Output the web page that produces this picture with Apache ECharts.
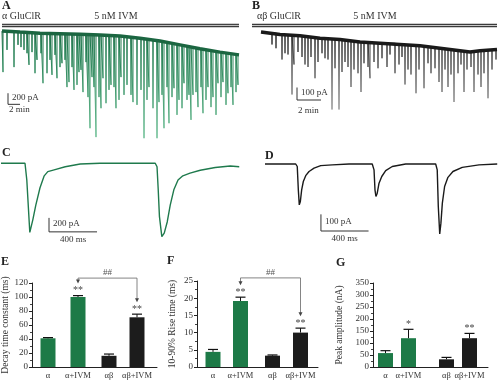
<!DOCTYPE html>
<html><head><meta charset="utf-8">
<script src="https://cdn.jsdelivr.net/npm/echarts/dist/echarts.min.js"></script>
<style>html,body{margin:0;padding:0;background:#fff}#c{width:499px;height:382px}</style>
</head><body><div id="c"></div>
<script>
// ================= DATA =================
// Panel A: α GluClR + 5 nM IVM, whole-cell trace (time s, current pA)
const aBaseT = [0,180,380,580,780,980,1180,1380,1580,1780,1980,2180,2370];
const aBaseI = [0,-20,-40,-50,-60,-70,-90,-130,-180,-250,-320,-380,-430];
const aSpikeT = [10,50,120,160,190,220,250,270,300,330,350,390,410,450,480,500,530,550,580,600,630,650,670,700,720,750,770,790,810,840,860,880,900,920,940,970,990,1010,1040,1070,1090,1120,1140,1170,1190,1220,1250,1290,1310,1350,1390,1420,1450,1470,1510,1550,1570,1600,1620,1650,1670,1700,1720,1750,1770,1800,1820,1850,1870,1890,1910,1940,1960,1990,2010,2040,2060,2090,2110,2140,2160,2190,2210,2240,2260,2290,2310,2340,2360];
const aSpikeBase = [0,-10,-10,-20,-20,-20,-20,-30,-30,-30,-30,-40,-40,-40,-50,-50,-50,-50,-50,-50,-60,-60,-60,-60,-60,-60,-60,-60,-60,-70,-70,-70,-70,-70,-70,-70,-70,-70,-80,-80,-80,-80,-90,-90,-90,-100,-100,-110,-110,-120,-130,-140,-140,-150,-160,-170,-180,-190,-190,-210,-210,-220,-230,-240,-250,-260,-270,-280,-280,-290,-300,-310,-320,-330,-330,-340,-350,-350,-360,-370,-370,-380,-390,-400,-400,-410,-420,-420,-430];
const aSpikePeak = [-740,-340,-650,-250,-290,-340,-400,-610,-380,-760,-520,-400,-940,-760,-520,-790,-430,-850,-650,-580,-520,-1010,-920,-650,-1060,-970,-740,-700,-1100,-560,-1190,-1750,-830,-1010,-1910,-1190,-1390,-850,-1300,-1060,-970,-1010,-1390,-1240,-830,-1150,-970,-1150,-1280,-1330,-1060,-1930,-1240,-1010,-1390,-1930,-1280,-1150,-1750,-1010,-1660,-1190,-1030,-1510,-1240,-1390,-940,-1240,-1150,-1600,-1150,-1100,-1370,-1010,-1480,-1240,-1010,-1370,-1190,-1510,-940,-1190,-920,-1330,-1120,-1010,-1330,-1100,-970];
const aIvm = [0, 2370];

// Panel B: αβ GluClR + 5 nM IVM (time s, current pA)
const bBaseT = [0,95,195,295,395,495,595,695,795,895,995,1045,1095,1180];
const bBaseI = [0,-20,-30,-50,-60,-80,-90,-100,-110,-130,-150,-160,-150,-140];
const bSpikeT = [55,75,105,120,135,155,165,185,205,220,235,250,270,285,305,320,335,355,370,390,405,420,435,450,465,485,500,515,535,545,565,585,605,630,645,670,690,705,720,735,750,775,790,815,835,850,870,890,905,920,935,950,965,985,1000,1015,1030,1050,1065,1085,1100,1115,1135,1155,1175];
const bSpikeBase = [-10,-10,-20,-20,-20,-30,-30,-30,-30,-40,-40,-40,-40,-50,-50,-50,-50,-60,-60,-60,-70,-70,-70,-70,-80,-80,-80,-80,-80,-80,-90,-90,-90,-90,-90,-90,-100,-100,-100,-100,-100,-110,-110,-120,-120,-120,-120,-130,-130,-130,-140,-140,-150,-150,-150,-160,-160,-160,-160,-150,-150,-150,-140,-140,-140];
const bSpikePeak = [-100,-130,-220,-170,-180,-500,-260,-160,-200,-260,-280,-200,-370,-240,-170,-210,-220,-620,-290,-620,-320,-240,-280,-440,-300,-330,-480,-250,-280,-370,-240,-290,-210,-280,-180,-330,-260,-200,-420,-300,-340,-490,-300,-450,-250,-330,-290,-400,-480,-300,-440,-340,-560,-330,-260,-480,-300,-280,-480,-340,-440,-330,-530,-300,-220];
const bIvm = [-45, 1180];

// Panel C: α GluClR single events (time ms, current pA)
const cT = [0,200,210,215,230,240,250,265,290,325,360,390,450,535,660,825,1075,1285,1300,1310,1320,1340,1360,1385,1410,1440,1475,1515,1575,1660,1785,1910,1985];
const cI = [0,0,-20,-240,-690,-990,-980,-810,-600,-350,-180,-120,-90,-50,-10,0,0,0,-50,-380,-760,-1050,-1000,-840,-600,-380,-240,-180,-140,-100,-60,-40,-50];

// Panel D: αβ GluClR single events (time ms, current pA)
const dT = [0,258,271,280,288,297,308,322,342,370,412,468,565,706,901,916,924,932,943,958,981,1014,1069,1182,1434,1447,1456,1468,1478,1490,1509,1537,1579,1657,1798,1951];
const dI = [0,0,-15,-155,-245,-225,-155,-105,-70,-45,-25,-10,-5,0,0,-35,-155,-195,-175,-115,-75,-40,-15,0,0,-35,-255,-420,-355,-235,-135,-80,-45,-20,-5,0];

// Panels E-G: bar summaries
const categories = ['α','α+IVM','αβ','αβ+IVM'];
const decayMean = [41,100,16,71];
const decayErr  = [1,2,2.5,4.5];
const decaySig  = ['','**','','**'];
const riseMean = [4.4,19.2,3.3,10];
const riseErr  = [0.7,1.1,0.2,1.3];
const riseSig  = ['','**','','**'];
const peakMean = [58,120,32,120];
const peakErr  = [10,37,8,20];
const peakSig  = ['','*','','**'];
const groupSig = '##';

// ================= LAYOUT / STYLE =================
const SERIF = '"Liberation Serif","DejaVu Serif",serif';
const GREEN = '#1d7a47', BLACK = '#1c1c1c';
const slotsE = [16,46,77,105], slotsF = [16,43.5,75.5,103.5], slotsG = [12.5,35.5,73.5,96.5];

function traceData(bt, bi, st, sb, sp) {
  const d = [[bt[0], bi[0]]];
  for (let i = 0; i < st.length; i++) d.push([st[i], sb[i]], [st[i], sp[i]], [st[i], sb[i]]);
  d.push([bt[bt.length-1], bi[bi.length-1]]);
  return d;
}
function zip(t, v) { return t.map((x, i) => [x, v[i]]); }
const grad = (c0, c1, c2) => new echarts.graphic.LinearGradient(0,0,0,1,[{offset:0,color:c0},{offset:0.15,color:c1},{offset:1,color:c2}]);

function scaleBar(gi, sb) {
  return {type:'custom', xAxisIndex:gi, yAxisIndex:gi, silent:true, data:[[sb.t, sb.i]],
    renderItem(params, api) {
      const p0 = api.coord([sb.t, sb.i]), pT = api.coord([sb.t, sb.i + sb.di]), pR = api.coord([sb.t + sb.dt, sb.i]);
      const font = '9px ' + SERIF;
      return {type:'group', children:[
        {type:'polyline', shape:{points:[pT, p0, pR]}, style:{stroke:'#333', lineWidth:1, fill:null}},
        {type:'text', style:{text:sb.yLabel, x:p0[0]+4, y:(pT[1]+p0[1])/2 - 1, font, fill:'#333', align:'left', textAlign:'left', verticalAlign:'middle', textVerticalAlign:'middle'}},
        {type:'text', style:{text:sb.xLabel, x: sb.xAlign==='left' ? p0[0]+1 : (p0[0]+pR[0])/2, y:p0[1]+sb.xDy, font, fill:'#333', align:sb.xAlign, textAlign:sb.xAlign, verticalAlign:'middle', textVerticalAlign:'middle'}}
      ]};
    }};
}
function ivmBar(gi, range, lvl) {
  const d = [[range[0], lvl], [range[1], lvl]];
  return [
    {type:'line', xAxisIndex:gi, yAxisIndex:gi, data:d, symbol:'none', silent:true, lineStyle:{color:'#3a3a3a', width:3.5}, z:5},
    {type:'line', xAxisIndex:gi, yAxisIndex:gi, data:d, symbol:'none', silent:true, lineStyle:{color:'#c8c8c8', width:1}, z:6}
  ];
}
function barSeries(gi, slots, mean) {
  return {type:'bar', xAxisIndex:gi, yAxisIndex:gi, barWidth:15, silent:true,
    data: mean.map((v, i) => ({value:[slots[i], v], itemStyle:{color: i < 2 ? GREEN : BLACK}})),
    label:{show:true, position:'bottom', distance:4, formatter:(p) => categories[p.dataIndex], fontSize:8.5, fontFamily:SERIF, color:'#333'}};
}
function errSeries(gi, slots, mean, err, sig) {
  return {type:'custom', xAxisIndex:gi, yAxisIndex:gi, silent:true, clip:false, z:5,
    data: mean.map((v, i) => [slots[i], v, err[i], i]),
    renderItem(params, api) {
      const x = api.value(0), m = api.value(1), e = api.value(2), idx = api.value(3);
      const pb = api.coord([x, m]), pt = api.coord([x, m + e]);
      const ch = [
        {type:'line', shape:{x1:pb[0], y1:pb[1], x2:pt[0], y2:pt[1]}, style:{stroke:'#111', lineWidth:1}},
        {type:'line', shape:{x1:pt[0]-5, y1:pt[1], x2:pt[0]+5, y2:pt[1]}, style:{stroke:'#111', lineWidth:1.2}}
      ];
      if (sig[idx]) ch.push({type:'text', style:{text:sig[idx], x:pt[0], y:pt[1]-5, font:'10px ' + SERIF, fill:'#444', align:'center', textAlign:'center', verticalAlign:'middle', textVerticalAlign:'middle'}});
      return {type:'group', children:ch};
    }};
}
function bracketSeries(gi, slots, mean, err, level, label) {
  return {type:'custom', xAxisIndex:gi, yAxisIndex:gi, silent:true, clip:false, z:5, data:[[0]],
    renderItem(params, api) {
      const a = 1, b = 3;
      const pa = api.coord([slots[a], level]), pb = api.coord([slots[b], level]);
      const ea = api.coord([slots[a], mean[a] + err[a]])[1] - 12, eb = api.coord([slots[b], mean[b] + err[b]])[1] - 12;
      const st = {stroke:'#666', lineWidth:0.8};
      const head = (x, y) => ({type:'polygon', shape:{points:[[x-2, y-4], [x+2, y-4], [x, y]]}, style:{fill:'#444'}});
      return {type:'group', children:[
        {type:'line', shape:{x1:pa[0], y1:pa[1], x2:pb[0], y2:pb[1]}, style:st},
        {type:'line', shape:{x1:pa[0], y1:pa[1], x2:pa[0], y2:ea-3}, style:st},
        {type:'line', shape:{x1:pb[0], y1:pb[1], x2:pb[0], y2:eb-3}, style:st},
        head(pa[0], ea), head(pb[0], eb),
        {type:'text', style:{text:label, x:(pa[0]+pb[0])/2, y:pa[1]-5, font:'9px ' + SERIF, fill:'#555', align:'center', textAlign:'center', verticalAlign:'middle', textVerticalAlign:'middle'}}
      ]};
    }};
}
function valueY(gi, max, interval, name, gap) {
  return {gridIndex:gi, type:'value', min:0, max, interval, name, nameLocation:'middle', nameGap:gap,
    nameTextStyle:{fontSize:9.5, fontFamily:SERIF, color:'#333'},
    axisLine:{show:true, lineStyle:{color:'#222', width:1}},
    axisTick:{show:true, length:3, lineStyle:{color:'#222'}},
    minorTick:{show:true, splitNumber:2, length:2, lineStyle:{color:'#444'}},
    axisLabel:{fontSize:9, fontFamily:SERIF, color:'#333', margin:4},
    splitLine:{show:false}};
}
function barX(gi, len) {
  return {gridIndex:gi, type:'value', min:0, max:len, axisLine:{show:true, onZero:false, lineStyle:{color:'#222', width:1}},
    axisTick:{show:false}, axisLabel:{show:false}, splitLine:{show:false}};
}
const hidden = (gi, min, max) => ({gridIndex:gi, type:'value', min, max, show:false, splitLine:{show:false}});
const G = (left, top, width, height) => ({left, top, width, height, containLabel:false, outerBoundsMode:'none'});

function txt(text, x, y, size, opts) {
  opts = opts || {};
  return {type:'text', x, y, silent:true, style:{text, font:(opts.bold ? 'bold ' : '') + size + 'px ' + SERIF, fill:opts.fill || '#222',
    align:opts.align || 'left', textAlign:opts.align || 'left', verticalAlign:'middle', textVerticalAlign:'middle'}};
}

const option = {
  animation:false,
  backgroundColor:'#fff',
  grid:[G(2,20,237,122), G(252,20,245,122), G(1,150,238,95), G(265,150,234,95), G(32,283,125,84), G(197,281,121,86), G(373,283,115,84)],
  xAxis:[hidden(0,0,2370), hidden(1,-45,1180), hidden(2,0,1983), hidden(3,0,1966), barX(4,125), barX(5,121), barX(6,115)],
  yAxis:[hidden(0,-1998,198), hidden(1,-880,96), hidden(2,-1170,190), hidden(3,-486,84),
    valueY(4,120,20,'Decay time constant (ms)',20), valueY(5,25,5,'10-90% Rise time (ms)',20), valueY(6,350,50,'Peak amplitude (nA)',29)],
  series:[
    // A
    {type:'line', xAxisIndex:0, yAxisIndex:0, data:traceData(aBaseT,aBaseI,aSpikeT,aSpikeBase,aSpikePeak), symbol:'none', silent:true,
      lineStyle:{width:1, color:grad('#17623d','#1f7a4e','#6cc095')}},
    {type:'line', xAxisIndex:0, yAxisIndex:0, data:zip(aBaseT,aBaseI), symbol:'none', silent:true, lineStyle:{width:3.5, color:'#1b6641'}, z:3},
    ...ivmBar(0, aIvm, 100),
    scaleBar(0, {t:60, i:-1320, dt:120, di:200, yLabel:'200 pA', xLabel:'2 min', xAlign:'left', xDy:5.5}),
    // B
    {type:'line', xAxisIndex:1, yAxisIndex:1, data:traceData(bBaseT,bBaseI,bSpikeT,bSpikeBase,bSpikePeak), symbol:'none', silent:true,
      lineStyle:{width:1, color:grad('#1a1a1a','#333','#9a9a9a')}},
    {type:'line', xAxisIndex:1, yAxisIndex:1, data:zip(bBaseT,bBaseI), symbol:'none', silent:true, lineStyle:{width:3.5, color:'#1a1a1a'}, z:3},
    ...ivmBar(1, bIvm, 52),
    scaleBar(1, {t:180, i:-544, dt:120, di:100, yLabel:'100 pA', xLabel:'2 min', xAlign:'left', xDy:11}),
    // C
    {type:'line', xAxisIndex:2, yAxisIndex:2, data:zip(cT,cI), symbol:'none', silent:true, lineStyle:{width:1.4, color:'#1f7a4d'}},
    scaleBar(2, {t:400, i:-982, dt:400, di:200, yLabel:'200 pA', xLabel:'400 ms', xAlign:'center', xDy:8}),
    // D
    {type:'line', xAxisIndex:3, yAxisIndex:3, data:zip(dT,dI), symbol:'none', silent:true, lineStyle:{width:1.4, color:'#1a1a1a'}},
    scaleBar(3, {t:470, i:-402, dt:400, di:100, yLabel:'100 pA', xLabel:'400 ms', xAlign:'center', xDy:7.5}),
    // E
    barSeries(4, slotsE, decayMean), errSeries(4, slotsE, decayMean, decayErr, decaySig),
    bracketSeries(4, slotsE, decayMean, decayErr, 127, groupSig),
    // F
    barSeries(5, slotsF, riseMean), errSeries(5, slotsF, riseMean, riseErr, riseSig),
    bracketSeries(5, slotsF, riseMean, riseErr, 25.9, groupSig),
    // G
    barSeries(6, slotsG, peakMean), errSeries(6, slotsG, peakMean, peakErr, peakSig)
  ],
  graphic:[
    txt('A', 2, 5.5, 12, {bold:true}), txt('B', 252, 5.5, 12, {bold:true}),
    txt('C', 2, 152.5, 12, {bold:true}), txt('D', 265, 155.5, 12, {bold:true}),
    txt('E', 1, 261.5, 12, {bold:true}), txt('F', 167, 261, 12, {bold:true}), txt('G', 336, 262.5, 12, {bold:true}),
    txt('α GluClR', 2, 16, 10, {fill:'#333'}), txt('5 nM IVM', 116, 16, 10, {align:'center', fill:'#333'}),
    txt('αβ GluClR', 257, 16, 10, {fill:'#333'}), txt('5 nM IVM', 375, 16, 10, {align:'center', fill:'#333'})
  ]
};
const chart = echarts.init(document.getElementById('c'), null, {renderer:'canvas'});
chart.setOption(option);
</script></body></html>
